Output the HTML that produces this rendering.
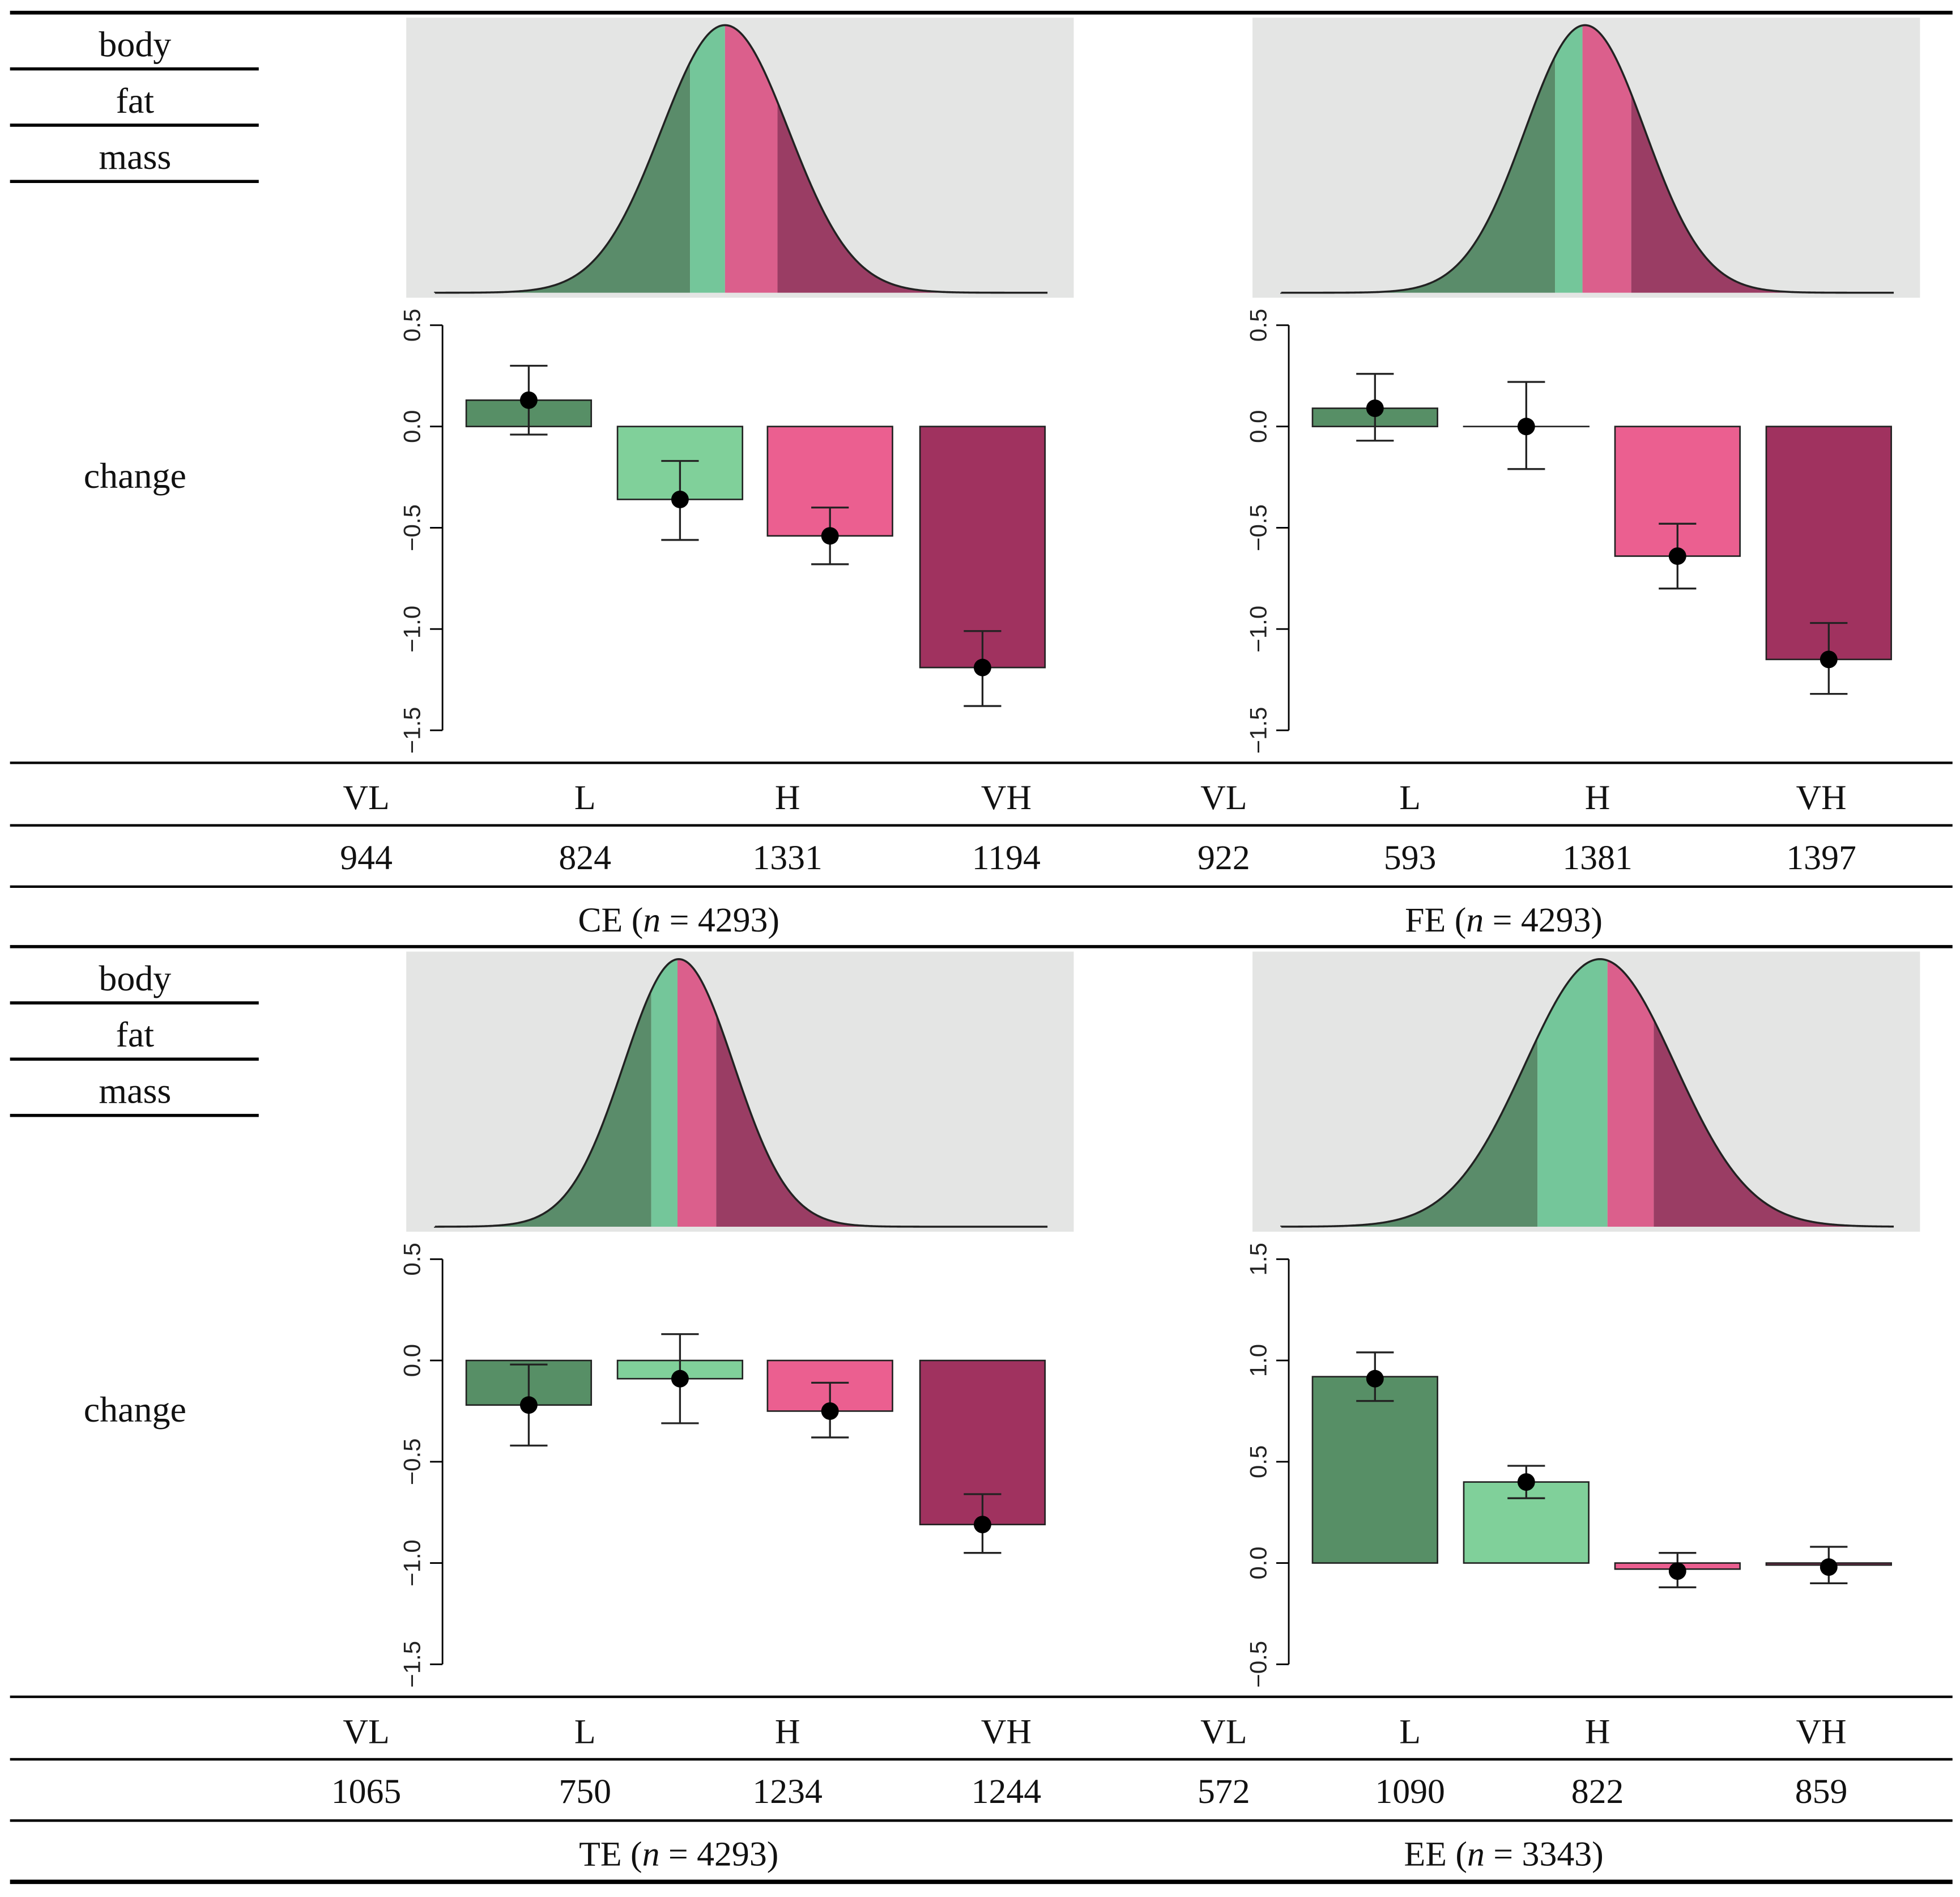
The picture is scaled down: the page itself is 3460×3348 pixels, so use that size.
<!DOCTYPE html>
<html><head><meta charset="utf-8"><style>
html,body{margin:0;padding:0;background:#fff}
svg{display:block}
text{font-family:"Liberation Serif","DejaVu Serif",serif;fill:#111}
.tk{font-family:"Liberation Sans","DejaVu Sans",sans-serif;font-size:19px;fill:#222}
</style></head><body>
<svg id="fig" width="3460" height="3348" viewBox="0 0 1568 1517" xmlns="http://www.w3.org/2000/svg"></svg>
<script>
const panelNames = ["CE","FE","TE","EE"];
const panelN = [4293,4293,4293,3343];
const categories = ["VL","L","H","VH"];
const counts = [[944,824,1331,1194],[922,593,1381,1397],[1065,750,1234,1244],[572,1090,822,859]];
const barValues = [[0.13,-0.36,-0.54,-1.19],[0.09,0.0,-0.64,-1.15],[-0.22,-0.09,-0.25,-0.81],[0.92,0.40,-0.03,-0.01]];
const dotValues = [[0.13,-0.36,-0.54,-1.19],[0.09,0.0,-0.64,-1.15],[-0.22,-0.09,-0.25,-0.81],[0.91,0.40,-0.04,-0.02]];
const errHigh = [[0.30,-0.17,-0.40,-1.01],[0.26,0.22,-0.48,-0.97],[-0.02,0.13,-0.11,-0.66],[1.04,0.48,0.05,0.08]];
const errLow = [[-0.04,-0.56,-0.68,-1.38],[-0.07,-0.21,-0.80,-1.32],[-0.42,-0.31,-0.38,-0.95],[0.80,0.32,-0.12,-0.10]];
const yTicks = [[0.5,0,-0.5,-1,-1.5],[0.5,0,-0.5,-1,-1.5],[0.5,0,-0.5,-1,-1.5],[1.5,1,0.5,0,-0.5]];
const curveSigma = [51,48,44,60];
const curvePeak = [580,1268,543,1280];
const curveCuts = [[552,580,622],[1244,1266,1305],[521,542,573],[1230,1286,1323]];

const svg=document.getElementById('fig');
const NS='http://www.w3.org/2000/svg';
function mk(tag,attrs,parent){const e=document.createElementNS(NS,tag);for(const k in attrs)e.setAttribute(k,attrs[k]);(parent||svg).appendChild(e);return e;}
const barCols=["#578f66","#80d09a","#eb5f90","#a0325f"];
const regCols=["#5a8c6a","#74c69a","#db5f8c","#9a3d64"];
const fmt=v=>{let s=(Math.abs(v)%1===0)?v.toFixed(1):String(v);return s.replace('-','\u2212');};

// horizontal rules
[[10,3],[610,2],[660,2],[709,2],[757,2.5],[1357,2],[1407,2],[1456,2],[1505,3.5]].forEach((r,i)=>{
  const l=mk('line',{x1:8,x2:1562,y1:r[0],y2:r[0],stroke:'#000','stroke-width':r[1]});
  
  
});

for(let p=0;p<4;p++){
  const col=p%2, row=Math.floor(p/2);
  const dy=row*747;
  const g=mk('g',{});
  
  
  const gx0=col?1002:325, gx1=col?1536:859;
  const axX=col?1031:354;
  const centers=col?[1100,1221,1342,1463]:[423,544,664,786];
  // row labels
  if(col===0){
    ["body","fat","mass"].forEach((w,i)=>{
      const t=mk('text',{x:108,y:dy+45+i*45,'text-anchor':'middle','font-size':29},g);t.textContent=w;
      
      
      mk('line',{x1:8,x2:207,y1:dy+55+i*45,y2:dy+55+i*45,stroke:'#000','stroke-width':2.5},g);
    });
    const c=mk('text',{x:108,y:dy+390,'text-anchor':'middle','font-size':29},g);c.textContent='change';
    
    
  }
  // distribution
  const bg=mk('rect',{x:gx0,y:dy+14,width:gx1-gx0,height:224,fill:'#e4e5e4'},g);
  
  
  const cx0=gx0+23, cx1=gx1-21, base=dy+234, H=214, mu=curvePeak[p], sg=curveSigma[p];
  const yc=x=>base-H*Math.exp(-0.5*((x-mu)/sg)**2);
  const edges=[cx0,...curveCuts[p],cx1];
  for(let r=0;r<4;r++){
    let d=`M${edges[r]},${base}`;
    for(let x=edges[r];x<=edges[r+1];x+=1)d+=` L${x},${yc(x).toFixed(2)}`;
    d+=` L${edges[r+1]},${yc(edges[r+1]).toFixed(2)} L${edges[r+1]},${base}Z`;
    const a=mk('path',{d,fill:regCols[r]},g);
    
    
  }
  let d=`M${cx0},${yc(cx0)}`;
  for(let x=cx0;x<=cx1;x+=1)d+=` L${x},${yc(x).toFixed(2)}`;
  const cl=mk('path',{d,fill:'none',stroke:'#222','stroke-width':1.6},g);
  
  
  // bar chart axis
  const tk=yTicks[p], yTop=dy+260, yBot=dy+584;
  const vmax=tk[0], vmin=tk[tk.length-1];
  const ys=v=>yTop+(vmax-v)/(vmax-vmin)*(yBot-yTop);
  mk('line',{x1:axX,x2:axX,y1:yTop,y2:yBot,stroke:'#000','stroke-width':1.3},g);
  tk.forEach(v=>{
    const y=ys(v);
    mk('line',{x1:axX-10,x2:axX,y1:y,y2:y,stroke:'#000','stroke-width':1.3},g);
    const t=mk('text',{x:0,y:0,class:'tk','text-anchor':'middle',transform:`translate(${axX-18},${y}) rotate(-90)`},g);
    t.textContent=fmt(v);
    
    
  });
  for(let i=0;i<4;i++){
    const cx=centers[i], y0=ys(0), yv=ys(barValues[p][i]);
    const b=mk('rect',{x:cx-50,y:Math.min(y0,yv),width:100,height:Math.max(Math.abs(yv-y0),0.01),fill:barCols[i],stroke:'#222','stroke-width':1.2},g);
    
    
    const yh=ys(errHigh[p][i]), yl=ys(errLow[p][i]);
    const eb=mk('path',{d:`M${cx},${yh}V${yl}M${cx-15},${yh}H${cx+15}M${cx-15},${yl}H${cx+15}`,stroke:'#222','stroke-width':1.5,fill:'none'},g);
    
    
    const dt=mk('circle',{cx,cy:ys(dotValues[p][i]),r:7,fill:'#000'},g);
    
    
  }
  // table
  const labX=col?[979,1128,1278,1457]:[293,468,630,805];
  for(let i=0;i<4;i++){
    const t=mk('text',{x:labX[i],y:dy+647,'text-anchor':'middle','font-size':28},g);t.textContent=categories[i];
    
    
    const n=mk('text',{x:labX[i],y:dy+695,'text-anchor':'middle','font-size':28},g);n.textContent=counts[p][i];
    
    
  }
  const tt=mk('text',{x:col?1203:543,y:dy+745,'text-anchor':'middle','font-size':28},g);
  tt.innerHTML=panelNames[p]+' (<tspan font-style="italic">n</tspan> = '+panelN[p]+')';
  
  
}
</script>
</body></html>
